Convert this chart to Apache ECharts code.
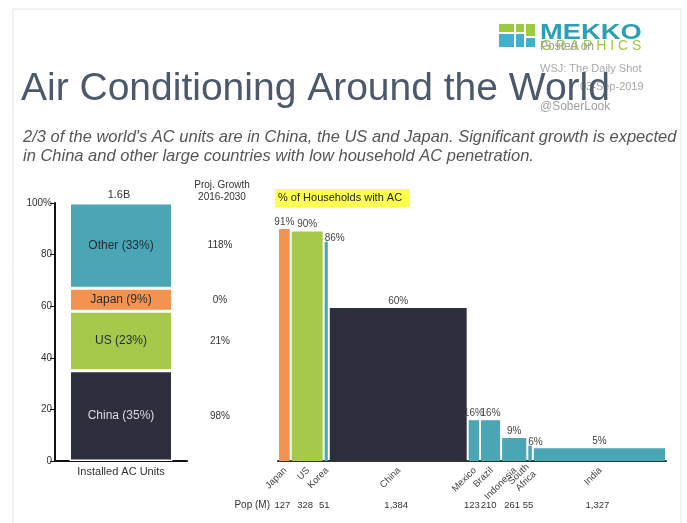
<!DOCTYPE html>
<html>
<head>
<meta charset="utf-8">
<script src="https://cdn.jsdelivr.net/npm/echarts/dist/echarts.min.js"></script>
<style>
    html, body {
      margin: 0;
      padding: 0;
      background: #fff;
    }
    #main {
      width: 687px;
      height: 523px;
    }
</style>
</head>
<body>
<div id="main"></div>
<script type="text/javascript">
    // installed AC units, share by region (bottom to top)
    var unitRegions = ['China', 'US', 'Japan', 'Other'];
    var unitShare = [35, 23, 9, 33];
    var projGrowth = ['98%', '21%', '0%', '118%'];
    var unitTotal = '1.6B';

    // households with AC, bar width = population
    var countries = ['Japan', 'US', 'Korea', 'China', 'Mexico', 'Brazil', 'Indonesia', 'South\nAfrica', 'India'];
    var population = [127, 328, 51, 1384, 123, 210, 261, 55, 1327];
    var acShare = [91, 90, 86, 60, 16, 16, 9, 6, 5];

    var yTicks = [0, 20, 40, 60, 80, 100];

    var dark = '#2d303c', green = '#a7c94b', orange = '#f4934f', teal = '#4aa5b4';
    var regionColors = [dark, green, orange, teal];
    var countryColors = [orange, green, teal, dark, teal, teal, teal, teal, teal];
    var font = 'Liberation Sans, Arial, sans-serif';

    var myChart = echarts.init(document.getElementById('main'));

    var popTotal = 0;
    var mekkoData = population.map(function(p, i) {
        var start = popTotal;
        popTotal += p;
        return [start, popTotal, acShare[i], i];
    });

    var cum = 0;
    var growthData = unitShare.map(function(s, i) {
        var mid = cum + s / 2;
        cum += s;
        return [0, mid, i];
    });

    var unitSeries = unitRegions.map(function(name, i) {
        return {
            name: name,
            type: 'bar',
            stack: 'units',
            xAxisIndex: 0,
            yAxisIndex: 0,
            barWidth: 103,
            data: [unitShare[i]],
            itemStyle: {color: regionColors[i], borderColor: '#fff', borderWidth: 1.5},
            label: {
                show: true,
                position: 'inside',
                fontFamily: font,
                fontSize: 12,
                color: i === 0 ? '#d9dbe0' : '#1f2a36',
                formatter: name + ' (' + unitShare[i] + '%)'
            },
            silent: true
        };
    });

    option = {
        animation: false,
        textStyle: {fontFamily: font},
        grid: [
            {left: 55, top: 203, width: 132, height: 258},
            {left: 278, top: 206, width: 388, height: 255}
        ],
        xAxis: [
            {
                gridIndex: 0,
                type: 'category',
                data: ['Installed AC Units'],
                axisLine: {lineStyle: {color: '#111', width: 2}},
                axisTick: {show: false},
                axisLabel: {color: '#333', fontSize: 11, margin: 5}
            },
            {
                gridIndex: 1,
                type: 'value',
                min: 0,
                max: popTotal,
                axisLine: {show: true, onZero: false, lineStyle: {color: '#333', width: 2}},
                axisTick: {show: false},
                axisLabel: {show: false},
                splitLine: {show: false}
            }
        ],
        yAxis: [
            {
                gridIndex: 0,
                type: 'value',
                min: 0,
                max: 100,
                interval: 20,
                axisLine: {show: true, lineStyle: {color: '#111', width: 2}},
                axisTick: {show: true, length: 5, lineStyle: {color: '#111', width: 1}},
                axisLabel: {
                    color: '#333',
                    fontSize: 10,
                    margin: 3,
                    formatter: function(v) {
                        return yTicks.indexOf(v) < 0 ? '' : (v === 100 ? v + '%' : v);
                    }
                },
                splitLine: {show: false}
            },
            {
                gridIndex: 1,
                type: 'value',
                min: 0,
                max: 100,
                show: false
            }
        ],
        graphic: [
            {type: 'rect', shape: {x: 13, y: 9, width: 668, height: 530}, style: {fill: '#fff', stroke: '#e4e4e4', lineWidth: 1}, z: -10},
            // logo
            {type: 'rect', shape: {x: 499, y: 24, width: 15, height: 8}, style: {fill: '#9cc93d'}},
            {type: 'rect', shape: {x: 516, y: 24, width: 8, height: 8}, style: {fill: '#9cc93d'}},
            {type: 'rect', shape: {x: 526, y: 24, width: 9, height: 12}, style: {fill: '#9cc93d'}},
            {type: 'rect', shape: {x: 499, y: 34, width: 15, height: 13}, style: {fill: '#3fb1c9'}},
            {type: 'rect', shape: {x: 516, y: 34, width: 8, height: 13}, style: {fill: '#3fb1c9'}},
            {type: 'rect', shape: {x: 526, y: 38, width: 9, height: 9}, style: {fill: '#3fb1c9'}},
            {type: 'text', x: 540, y: 21, scaleX: 1.3, scaleY: 1.08, style: {text: 'MEKKO', font: 'bold 21px ' + font, fill: '#2aa0b7'}},
            {type: 'text', x: 541, y: 39, style: {text: 'G R A P H I C S', font: '14px ' + font, fill: '#9cc93d'}},
            {type: 'text', x: 540, y: 41, style: {text: 'Posted on', font: '12px ' + font, fill: '#a0a0a0'}},
            {type: 'text', x: 540, y: 63, style: {text: 'WSJ: The Daily Shot', font: '11px ' + font, fill: '#a8a8a8'}},
            {type: 'text', x: 580, y: 81, style: {text: '03-Sep-2019', font: '11px ' + font, fill: '#a8a8a8'}},
            {type: 'text', x: 540, y: 101, style: {text: '@SoberLook', font: '12px ' + font, fill: '#a0a0a0'}},
            // title
            {type: 'text', x: 21, y: 70, style: {text: 'Air Conditioning Around the World', font: '39px ' + font, fill: '#4c596c'}},
            {type: 'text', x: 23, y: 137, style: {text: '2/3 of the world\'s AC units are in China, the US and Japan. Significant growth is expected', font: 'italic 16.5px ' + font, fill: '#555', textVerticalAlign: 'middle'}},
            {type: 'text', x: 23, y: 156, style: {text: 'in China and other large countries with low household AC penetration.', font: 'italic 16.5px ' + font, fill: '#555', textVerticalAlign: 'middle'}},
            // left chart headers
            {type: 'text', x: 119, y: 195, style: {text: unitTotal, font: '11px ' + font, fill: '#333', textAlign: 'center', textVerticalAlign: 'middle'}},
            {type: 'text', x: 222, y: 185, style: {text: 'Proj. Growth', font: '10px ' + font, fill: '#333', textAlign: 'center', textVerticalAlign: 'middle'}},
            {type: 'text', x: 222, y: 197, style: {text: '2016-2030', font: '10px ' + font, fill: '#333', textAlign: 'center', textVerticalAlign: 'middle'}},
            // right chart header
            {type: 'rect', shape: {x: 275, y: 189, width: 135, height: 18}, style: {fill: '#ffff4d'}},
            {type: 'text', x: 278, y: 198, style: {text: '% of Households with AC', font: '11px ' + font, fill: '#222', textVerticalAlign: 'middle'}},
            {type: 'text', x: 270, y: 505, style: {text: 'Pop (M)', font: '10px ' + font, fill: '#333', textAlign: 'right', textVerticalAlign: 'middle'}}
        ],
        series: unitSeries.concat([
            {
                type: 'custom',
                xAxisIndex: 0,
                yAxisIndex: 0,
                data: growthData,
                silent: true,
                renderItem: function(params, api) {
                    var p = api.coord([api.value(0), api.value(1)]);
                    return {
                        type: 'text',
                        x: 220,
                        y: p[1],
                        style: {
                            text: projGrowth[api.value(2)],
                            font: '10px ' + font,
                            fill: '#333',
                            textAlign: 'center',
                            textVerticalAlign: 'middle'
                        }
                    };
                }
            },
            {
                type: 'custom',
                xAxisIndex: 1,
                yAxisIndex: 1,
                data: mekkoData,
                silent: true,
                renderItem: function(params, api) {
                    var i = api.value(3);
                    var top = api.coord([api.value(0), api.value(2)]);
                    var base = api.coord([api.value(1), 0]);
                    var x0 = top[0], x1 = base[0];
                    var w = x1 - x0;
                    var cx = (x0 + x1) / 2;
                    var narrow = w < 8;
                    return {
                        type: 'group',
                        children: [
                            {
                                type: 'rect',
                                shape: {x: x0 + 1, y: top[1], width: w - 2, height: base[1] - top[1]},
                                style: {fill: countryColors[i]}
                            },
                            {
                                type: 'text',
                                x: narrow ? x0 + 1 : cx,
                                y: narrow ? top[1] + 2 : top[1] - 2,
                                style: {
                                    text: api.value(2) + '%',
                                    font: '10px ' + font,
                                    fill: '#444',
                                    textAlign: narrow ? 'left' : 'center',
                                    textVerticalAlign: 'bottom'
                                }
                            },
                            {
                                type: 'text',
                                x: cx + 1,
                                y: base[1] + 8,
                                rotation: Math.PI / 4,
                                style: {
                                    text: countries[i],
                                    font: '9.5px ' + font,
                                    fill: '#444',
                                    textAlign: 'right',
                                    textVerticalAlign: 'middle'
                                }
                            },
                            {
                                type: 'text',
                                x: cx - 2,
                                y: base[1] + 44,
                                style: {
                                    text: population[i].toLocaleString('en-US'),
                                    font: '9.5px ' + font,
                                    fill: '#333',
                                    textAlign: 'center',
                                    textVerticalAlign: 'middle'
                                }
                            }
                        ]
                    };
                }
            }
        ])
    };
    myChart.setOption(option);
</script>
</body>
</html>
